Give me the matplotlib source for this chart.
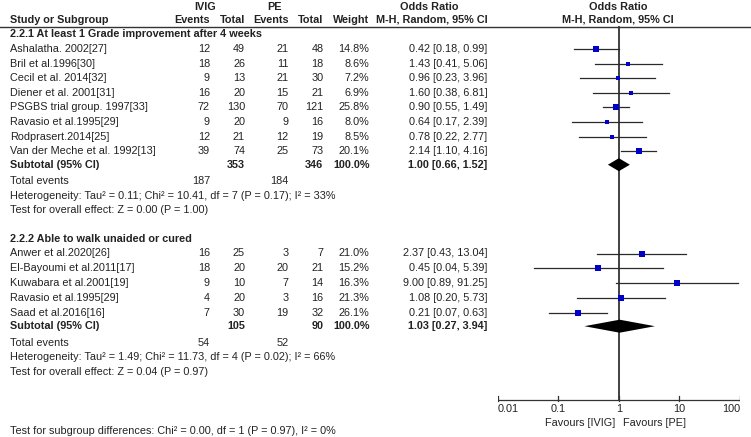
import matplotlib
matplotlib.use("Agg")
import matplotlib.pyplot as plt
import numpy as np

plt.rcParams['font.family'] = ['Liberation Sans', 'DejaVu Sans']

# Subgroup 2.2.1 data
g1_title = "2.2.1 At least 1 Grade improvement after 4 weeks"
g1_studies = ["Ashalatha. 2002[27]", "Bril et al.1996[30]", "Cecil et al. 2014[32]",
              "Diener et al. 2001[31]", "PSGBS trial group. 1997[33]", "Ravasio et al.1995[29]",
              "Rodprasert.2014[25]", "Van der Meche et al. 1992[13]"]
g1_ivig_ev = [12, 18, 9, 16, 72, 9, 12, 39]
g1_ivig_tot = [49, 26, 13, 20, 130, 20, 21, 74]
g1_pe_ev = [21, 11, 21, 15, 70, 9, 12, 25]
g1_pe_tot = [48, 18, 30, 21, 121, 16, 19, 73]
g1_weight = [14.8, 8.6, 7.2, 6.9, 25.8, 8.0, 8.5, 20.1]
g1_or = [0.42, 1.43, 0.96, 1.60, 0.90, 0.64, 0.78, 2.14]
g1_lo = [0.18, 0.41, 0.23, 0.38, 0.55, 0.17, 0.22, 1.10]
g1_hi = [0.99, 5.06, 3.96, 6.81, 1.49, 2.39, 2.77, 4.16]
g1_sub = (1.00, 0.66, 1.52)
g1_totals = (353, 346)
g1_events = (187, 184)
g1_het = "Heterogeneity: Tau\u00b2 = 0.11; Chi\u00b2 = 10.41, df = 7 (P = 0.17); I\u00b2 = 33%"
g1_test = "Test for overall effect: Z = 0.00 (P = 1.00)"

# Subgroup 2.2.2 data
g2_title = "2.2.2 Able to walk unaided or cured"
g2_studies = ["Anwer et al.2020[26]", "El-Bayoumi et al.2011[17]", "Kuwabara et al.2001[19]",
              "Ravasio et al.1995[29]", "Saad et al.2016[16]"]
g2_ivig_ev = [16, 18, 9, 4, 7]
g2_ivig_tot = [25, 20, 10, 20, 30]
g2_pe_ev = [3, 20, 7, 3, 19]
g2_pe_tot = [7, 21, 14, 16, 32]
g2_weight = [21.0, 15.2, 16.3, 21.3, 26.1]
g2_or = [2.37, 0.45, 9.00, 1.08, 0.21]
g2_lo = [0.43, 0.04, 0.89, 0.20, 0.07]
g2_hi = [13.04, 5.39, 91.25, 5.73, 0.63]
g2_sub = (1.03, 0.27, 3.94)
g2_totals = (105, 90)
g2_events = (54, 52)
g2_het = "Heterogeneity: Tau\u00b2 = 1.49; Chi\u00b2 = 11.73, df = 4 (P = 0.02); I\u00b2 = 66%"
g2_test = "Test for overall effect: Z = 0.04 (P = 0.97)"

subgroup_test = "Test for subgroup differences: Chi\u00b2 = 0.00, df = 1 (P = 0.97), I\u00b2 = 0%"
axis_ticks = [0.01, 0.1, 1, 10, 100]
axis_labels = ["0.01", "0.1", "1", "10", "100"]

W, H = 751, 437
FS = 7.8
TXT = '#222222'

fig = plt.figure(figsize=(W / 100, H / 100), dpi=100)
ax = fig.add_axes([0, 0, 1, 1])
ax.set_xlim(0, W)
ax.set_ylim(H, 0)
ax.axis('off')

x0, x1 = 497.7, 740
fax = fig.add_axes([x0 / W, 0, (x1 - x0) / W, 1])
fax.set_xscale('log')
fax.set_xlim(0.01, 100)
fax.set_ylim(H, 0)
fax.axis('off')

# column right edges
c_name = 10
c_iev, c_itot, c_pev, c_ptot, c_w, c_or = 210, 245, 288.5, 323.5, 369.5, 487.5


def t(x, y, s, ha='left', bold=False, **kw):
    ax.text(x, y, s, ha=ha, va='center', fontsize=FS, color=TXT,
            fontweight='bold' if bold else 'normal', **kw)


# header
t(205, 7, "IVIG", ha='center', bold=True)
t(275, 7, "PE", ha='center', bold=True)
t(429.5, 7, "Odds Ratio", ha='center', bold=True)
t(618.5, 7, "Odds Ratio", ha='center', bold=True)
t(c_name, 20, "Study or Subgroup", bold=True)
for xx, s in [(c_iev, "Events"), (c_itot, "Total"), (c_pev, "Events"), (c_ptot, "Total"), (c_w, "Weight"),
              (c_or, "M-H, Random, 95% CI")]:
    t(xx, 20, s, ha='right', bold=True)
t(618, 20, "M-H, Random, 95% CI", ha='center', bold=True)
ax.plot([0, W], [26.5, 26.5], color='#333333', lw=1.0)


def group(title, y_title, y0, dy, studies, iev, itot, pev, ptot, wts, ors, los, his, sub, totals, events, het, test):
    t(c_name, y_title, title, bold=True)
    ys = y0 + dy * np.arange(len(studies))
    for i, y in enumerate(ys):
        t(c_name, y, studies[i])
        t(c_iev, y, str(iev[i]), ha='right')
        t(c_itot, y, str(itot[i]), ha='right')
        t(c_pev, y, str(pev[i]), ha='right')
        t(c_ptot, y, str(ptot[i]), ha='right')
        t(c_w, y, f"{wts[i]:.1f}%", ha='right')
        t(c_or, y, f"{ors[i]:.2f} [{los[i]:.2f}, {his[i]:.2f}]", ha='right')
        fax.plot([los[i], his[i]], [y, y], color='#2a2a2a', lw=0.9, zorder=2)
        fax.plot(ors[i], y, 's', color='#0000c8', markersize=np.sqrt(wts[i]) * 0.95,
                 mew=0, zorder=3)
    ys_sub = ys[-1] + 13.5
    t(c_name, ys_sub, "Subtotal (95% CI)", bold=True)
    t(c_itot, ys_sub, str(totals[0]), ha='right', bold=True)
    t(c_ptot, ys_sub, str(totals[1]), ha='right', bold=True)
    t(c_w, ys_sub, "100.0%", ha='right', bold=True)
    t(c_or, ys_sub, f"{sub[0]:.2f} [{sub[1]:.2f}, {sub[2]:.2f}]", ha='right', bold=True)
    h = 6.5
    fax.fill([sub[1], sub[0], sub[2], sub[0]], [ys_sub, ys_sub - h, ys_sub, ys_sub + h],
             color='black', lw=0, zorder=3)
    y = ys_sub + 16.5
    t(c_name, y, "Total events")
    t(c_iev, y, str(events[0]), ha='right')
    t(c_pev, y, str(events[1]), ha='right')
    t(c_name, y + 14.5, het)
    t(c_name, y + 29, test)


group(g1_title, 34, 49, 14.6, g1_studies, g1_ivig_ev, g1_ivig_tot, g1_pe_ev, g1_pe_tot,
      g1_weight, g1_or, g1_lo, g1_hi, g1_sub, g1_totals, g1_events, g1_het, g1_test)
group(g2_title, 239, 253.5, 14.8, g2_studies, g2_ivig_ev, g2_ivig_tot, g2_pe_ev, g2_pe_tot,
      g2_weight, g2_or, g2_lo, g2_hi, g2_sub, g2_totals, g2_events, g2_het, g2_test)

# line of no effect and axis
fax.plot([1, 1], [26.5, 400], color='#333333', lw=1.3, zorder=1)
fax.plot([axis_ticks[0], axis_ticks[-1]], [400, 400], color='#333333', lw=0.9)
for v, lab in zip(axis_ticks, axis_labels):
    fax.plot([v, v], [396, 401], color='#333333', lw=0.9)
    ha = 'left' if v == axis_ticks[0] else ('right' if v == axis_ticks[-1] else 'center')
    fax.text(v, 409, lab, ha=ha, va='center', fontsize=FS, color=TXT)
fax.text(0.87, 423, "Favours [IVIG]", ha='right', va='center', fontsize=FS, color=TXT)
fax.text(1.15, 423, "Favours [PE]", ha='left', va='center', fontsize=FS, color=TXT)

t(c_name, 431.5, subgroup_test)

fig.savefig("out.png", dpi=100, facecolor='white')
